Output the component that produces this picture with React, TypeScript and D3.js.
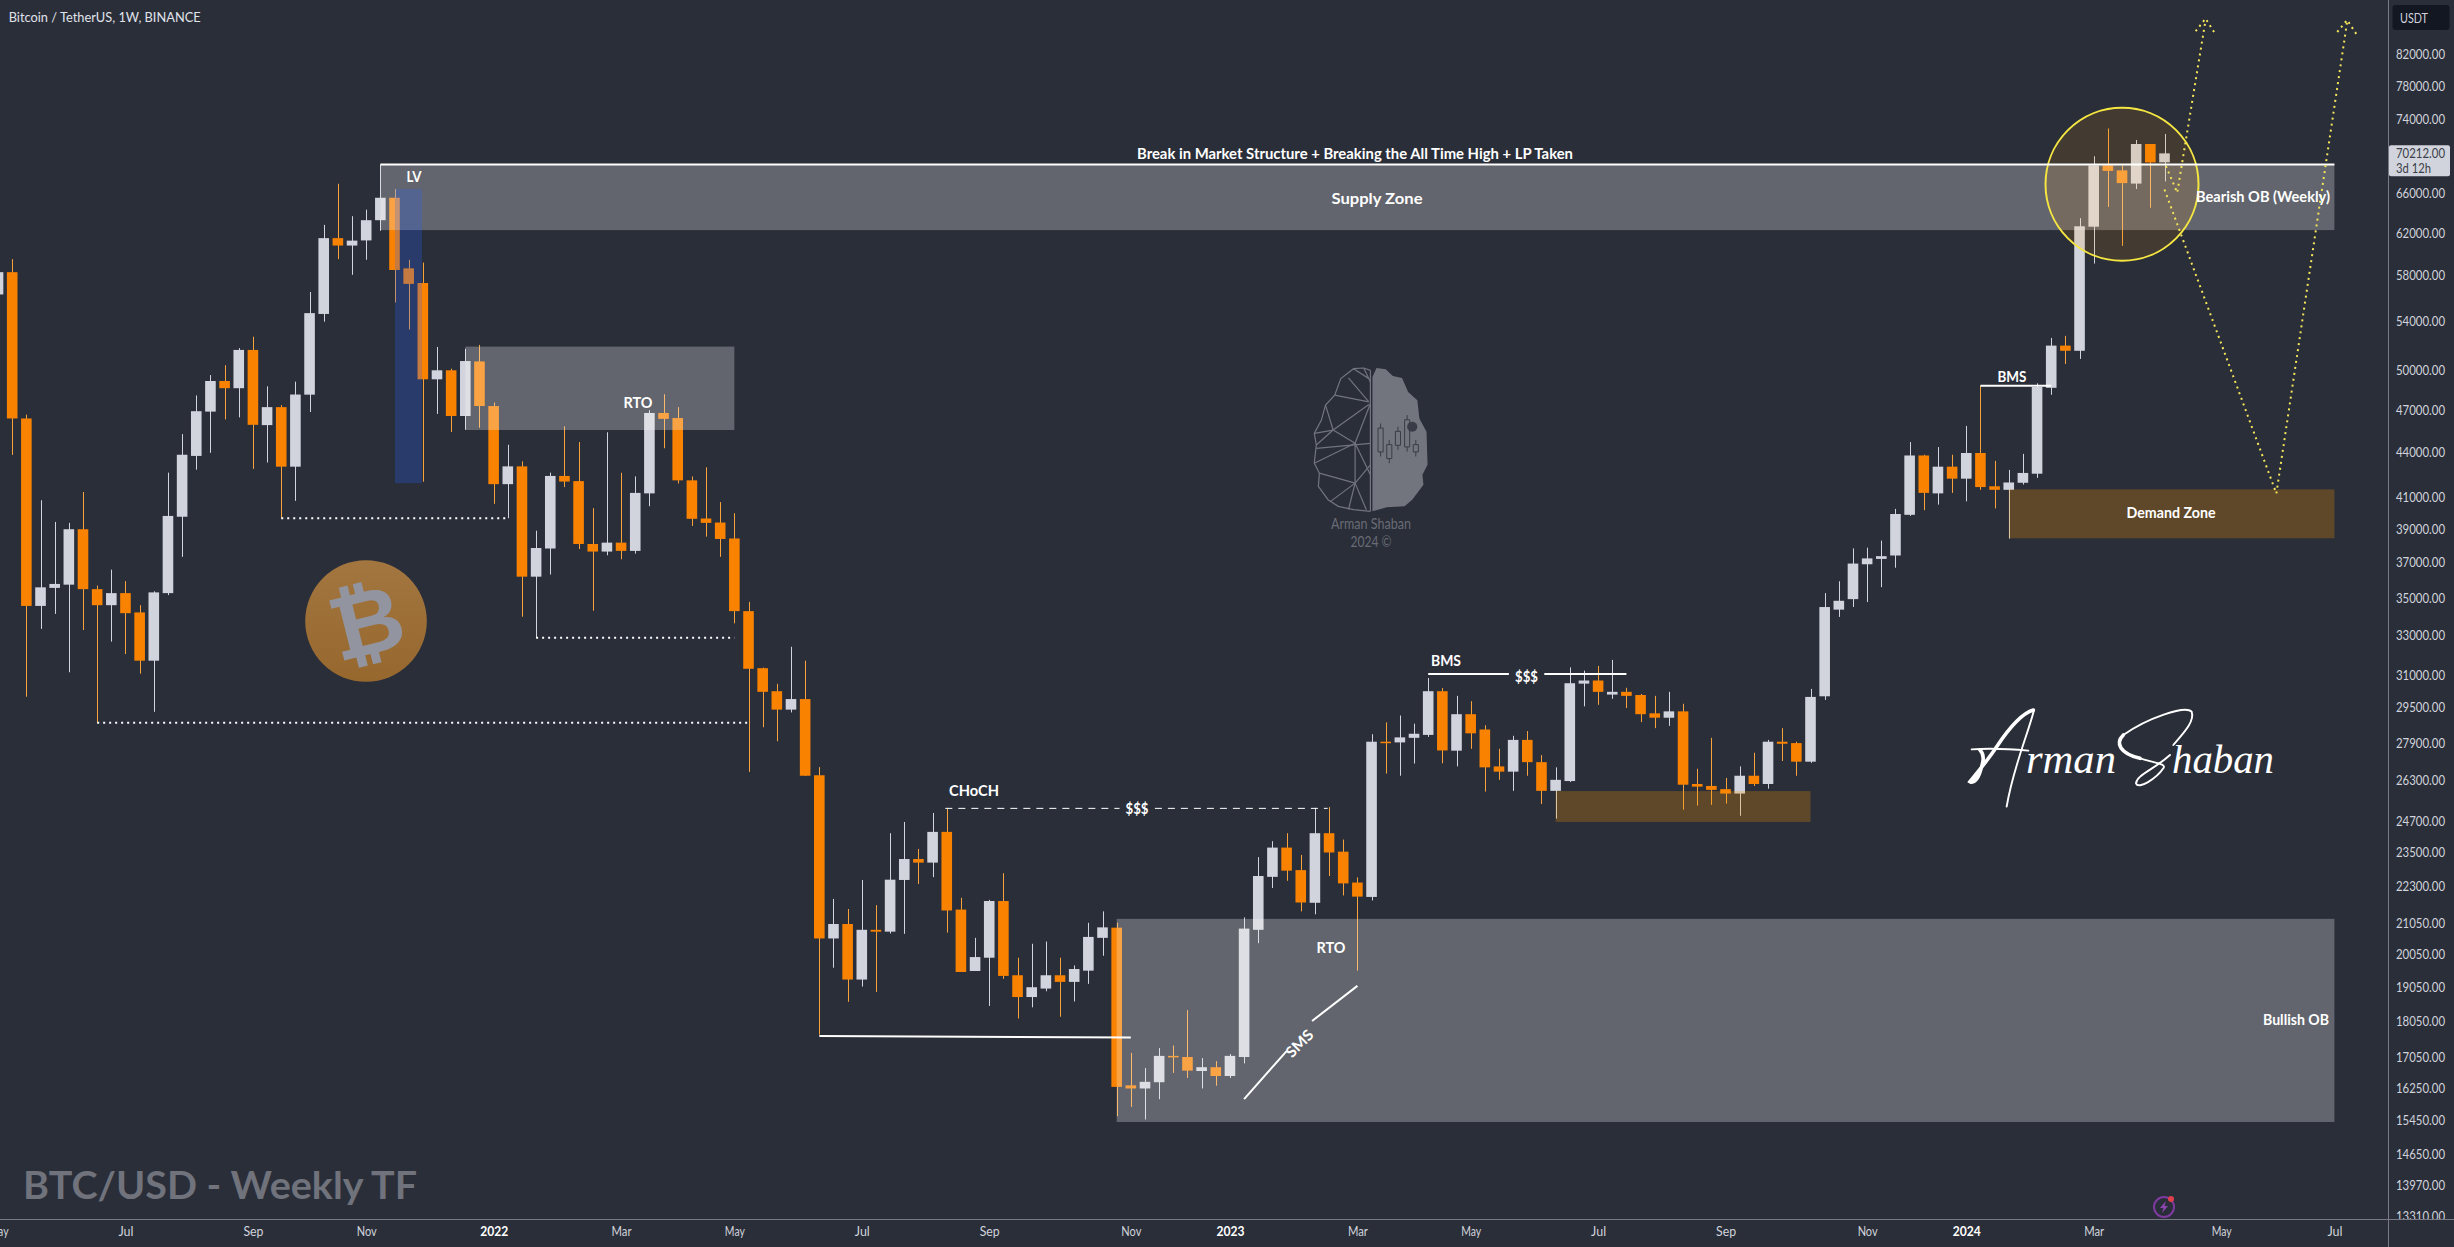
import React, { useRef, useEffect } from 'react';
import * as d3 from 'd3';

const WIDTH = 2454;
const HEIGHT = 1247;
const AXIS_X = 2388;
const AXIS_Y = 1219;

// weekly bars, first one is the week of 3 May 2021
const open = [
  56300, 58300, 46370, 34580, 35570, 35750, 38990, 35500, 34620, 35280, 34230, 31740, 35280, 39760, 43730, 46870,
  49170, 48620, 51620, 45890, 47200, 43000, 48130, 54610, 61490, 60780, 61270, 63240, 65500, 58650, 57320, 49300,
  50000, 46550, 50700, 47280, 41840, 43020, 36200, 37830, 42380, 42040, 38100, 37650, 38180, 37690, 41240, 46770,
  46400, 42090, 39650, 39400, 38430, 34300, 31370, 30260, 29400, 29890, 26530, 20550, 21020, 19270, 20830, 20770,
  22520, 23270, 23140, 24280, 21500, 19530, 19940, 21790, 19400, 18750, 19000, 19400, 19200, 19540, 20570, 20900,
  16330, 16250, 16410, 17100, 17070, 16700, 16800, 16570, 17070, 20830, 22630, 23690, 22870, 21730, 24230, 23540,
  22430, 21930, 27960, 27930, 28130, 28260, 30260, 27570, 29190, 28500, 26900, 26680, 28040, 27080, 25890, 26290,
  30620, 30770, 30100, 30230, 30080, 29230, 29030, 29320, 26170, 26090, 25960, 25780, 26510, 26170, 27960, 27900,
  27100, 30020, 34380, 34950, 36910, 37220, 37420, 39880, 43760, 41240, 43000, 42200, 43930, 41700, 41470, 41930,
  42530, 48650, 51970, 51550, 62600, 68900, 68370, 66970, 71250, 69230,
];
const high = [
  59500, 59500, 46650, 40800, 39440, 39380, 41330, 35700, 36600, 35950, 34620, 35380, 42600, 45250, 48070, 49630,
  50400, 51770, 52700, 48760, 47350, 49120, 56520, 62780, 66950, 63640, 64290, 69000, 66400, 59440, 59180, 51860,
  50130, 51710, 52030, 47540, 44500, 43360, 38900, 42600, 45800, 44690, 40300, 45380, 42590, 42350, 46970, 48160,
  47200, 42350, 42960, 40680, 39980, 34800, 31400, 30610, 32440, 31740, 26870, 21860, 21520, 22520, 21650, 24230,
  24660, 23640, 25010, 25210, 21900, 20570, 21830, 22760, 19940, 20380, 20450, 19940, 19700, 21060, 21440, 21060,
  17180, 16780, 17310, 17380, 18370, 17040, 16960, 17150, 21240, 23340, 23930, 24230, 23420, 25210, 25240, 23990,
  22610, 28290, 28820, 29130, 28760, 30890, 30410, 30040, 29790, 28690, 27650, 28220, 28430, 27380, 26860, 31410,
  31250, 31480, 31780, 30420, 30130, 30040, 30230, 29670, 26800, 28130, 26420, 26900, 27480, 28040, 28560, 27960,
  30370, 35280, 35940, 37840, 37880, 38300, 40250, 44690, 43810, 44340, 43810, 45830, 48800, 43390, 42780, 43870,
  48990, 52600, 52770, 63440, 69900, 73000, 68900, 71700, 71250, 72380,
];
const low = [
  53000, 43800, 30000, 33360, 34150, 31170, 33300, 28800, 32700, 32070, 31100, 29300, 35170, 37340, 42800, 43940,
  46300, 46450, 42850, 43280, 39680, 40760, 46840, 53950, 59500, 58060, 59440, 62200, 55600, 53300, 42000, 46700,
  45400, 45560, 45700, 40570, 39670, 34000, 32900, 36320, 41650, 37800, 34320, 37430, 37200, 37530, 40420, 44260,
  41880, 39190, 38540, 37340, 33650, 26670, 28600, 27980, 29270, 26500, 17680, 19630, 18610, 19060, 18900, 20710,
  20700, 22380, 22620, 20740, 19500, 19530, 18490, 19290, 18130, 18450, 18920, 18180, 18620, 19140, 20000, 15560,
  15790, 15480, 15980, 16650, 16520, 16250, 16320, 16520, 16900, 20400, 22240, 22490, 21440, 21340, 22660, 21980,
  19540, 21810, 26600, 26510, 27020, 28170, 27030, 26900, 27650, 25860, 26340, 25890, 26510, 25360, 24790, 26250,
  29550, 29620, 29900, 29470, 28830, 28560, 28660, 25140, 25300, 25330, 25380, 24900, 26090, 25980, 27130, 26510,
  27050, 29850, 33990, 34520, 34790, 35610, 36710, 39810, 40170, 40520, 41270, 40730, 41470, 40280, 38420, 41810,
  42250, 48120, 50500, 50900, 59090, 64570, 60750, 66400, 64480, 67200,
];
const close = [
  58300, 46370, 34580, 35600, 35790, 38990, 35500, 34620, 35280, 34190, 31740, 35320, 39810, 43810, 46900, 49170,
  48620, 51620, 45910, 47200, 43000, 48140, 54680, 61490, 60780, 61250, 63240, 65500, 58500, 57240, 49300, 50000,
  46550, 50730, 47280, 41840, 43020, 36200, 37860, 42380, 42010, 38100, 37650, 38180, 37690, 41270, 46770, 46340,
  42090, 39630, 39380, 38400, 34300, 31340, 30230, 29400, 29890, 26510, 20550, 21020, 19270, 20830, 20770, 22530,
  23270, 23140, 24280, 21470, 19500, 19960, 21790, 19380, 18750, 19040, 19400, 19200, 19590, 20600, 20910, 16290,
  16250, 16420, 17100, 17070, 16710, 16800, 16570, 17100, 20870, 22660, 23690, 22850, 21740, 24230, 23510, 22400,
  21940, 27960, 27930, 28150, 28310, 30260, 27580, 29190, 28330, 26860, 26680, 28040, 27080, 25890, 26340, 30640,
  30770, 30230, 30230, 30040, 29190, 29030, 29320, 26140, 26060, 25930, 25780, 26510, 26170, 27960, 27870, 27100,
  29990, 34520, 34860, 36950, 37250, 37380, 39930, 43760, 41270, 43000, 42200, 43930, 41650, 41470, 41950, 42580,
  48710, 51970, 51550, 62640, 68900, 68310, 67020, 71250, 69230, 70212,
];

const priceTicks = [
  82000, 78000, 74000, 66000, 62000, 58000, 54000, 50000, 47000, 44000, 41000, 39000, 37000, 35000, 33000, 31000,
  29500, 27900, 26300, 24700, 23500, 22300, 21050, 20050, 19050, 18050, 17050, 16250, 15450, 14650, 13970, 13310,
];
const timeTickBars = [0, 9, 18, 26, 35, 44, 52, 61, 70, 80, 87, 96, 104, 113, 122, 132, 139, 148, 157, 165];
const timeTickLabels = ['May', 'Jul', 'Sep', 'Nov', '2022', 'Mar', 'May', 'Jul', 'Sep', 'Nov', '2023', 'Mar', 'May', 'Jul', 'Sep', 'Nov', '2024', 'Mar', 'May', 'Jul'];

// [first bar, last bar, top price, bottom price]
const grayZones = [
  [27, 165, 69000, 62270],
  [33, 52, 51890, 45540],
  [79, 165, 21190, 15420],
];
const brownZones = [
  [110, 128, 25880, 24660],
  [142, 165, 41500, 38440],
];
const lvZone = [28.03, 29.94, 66400, 41900];

// horizontal levels: [first bar, last bar, price]
const solidLevels = [
  [27, 165, 69000],
  [101, 106.7, 31080],
  [109.2, 115, 31080],
  [140, 145, 48800],
];
const dottedLevels = [
  [20, 36, 39670],
  [38, 52, 32900],
  [7, 53, 28800],
];
const dashedLevels = [
  [66.9, 79.2, 25190],
  [81.7, 93.9, 25190],
];
const sweepLine = [[58, 17640], [80, 17600]];
const smsLines = [
  [[88, 15980], [91, 17230]],
  [[92.8, 18060], [96, 19080]],
];
const projectionA = [[153.1, 68830], [153.9, 66020], [155.9, 86500]];
const arrowA = [[155.2, 85000], [155.9, 86700], [156.6, 84600]];
const projectionB = [[153, 66350], [160.9, 41230], [165.9, 86300]];
const arrowB = [[165.2, 84900], [165.9, 86500], [166.7, 84200]];

const labelFont = 'Lato, "Noto Sans", sans-serif';

const App: React.FC = () => {
  const svgRef = useRef<SVGSVGElement>(null);

  useEffect(() => {
    if (!svgRef.current) return;
    const svg = d3.select(svgRef.current);
    svg.selectAll('*').remove();

    const x = d3.scaleLinear().domain([0, 153]).range([-1.96, 2164.5]);
    const y = d3.scaleLog().domain([82000, 13310]).range([54.2, 1216]);
    const bodyW = 10.6;

    svg.append('rect').attr('width', WIDTH).attr('height', HEIGHT).attr('fill', '#2a2e39');

    const defs = svg.append('defs');
    defs.append('clipPath').attr('id', 'plot').append('rect').attr('width', AXIS_X).attr('height', AXIS_Y);
    const coinFill = defs.append('linearGradient').attr('id', 'coinFill').attr('x1', 0).attr('x2', 0).attr('y1', 0).attr('y2', 1);
    coinFill.append('stop').attr('offset', 0).attr('stop-color', '#a37640');
    coinFill.append('stop').attr('offset', 1).attr('stop-color', '#96682e');

    const plot = svg.append('g').attr('clip-path', 'url(#plot)');

    // coin logo sits under everything
    const coin = plot.append('g').attr('transform', 'translate(366,621)');
    coin.append('circle').attr('r', 60.8).attr('fill', 'url(#coinFill)');
    coin.append('text')
      .attr('transform', 'rotate(-14)')
      .attr('text-anchor', 'middle')
      .attr('y', 33)
      .style('font-family', '"DejaVu Sans", sans-serif')
      .style('font-weight', 'bold')
      .style('font-size', '90px')
      .attr('fill', '#9295a0')
      .text('₿');

    drawBrain(plot);
    drawSignature(plot);

    // candles
    const bars = d3.range(open.length);
    const isUp = (i: number) => close[i] >= open[i];
    plot.append('g').selectAll('line').data(bars).enter().append('line')
      .attr('x1', i => Math.round(x(i)) + 0.5)
      .attr('x2', i => Math.round(x(i)) + 0.5)
      .attr('y1', i => y(high[i]))
      .attr('y2', i => y(low[i]))
      .attr('stroke', i => (isUp(i) ? '#d1d4dc' : '#f7a23a'))
      .attr('stroke-width', 1);
    plot.append('g').selectAll('rect').data(bars).enter().append('rect')
      .attr('x', i => x(i) - bodyW / 2)
      .attr('width', bodyW)
      .attr('y', i => y(Math.max(open[i], close[i])))
      .attr('height', i => Math.max(1.5, y(Math.min(open[i], close[i])) - y(Math.max(open[i], close[i]))))
      .attr('fill', i => (isUp(i) ? '#d1d4dc' : '#f98200'));

    // zones go over the candles, they are see-through
    const zone = (d: number[], fill: string) => plot.append('rect')
      .attr('x', x(d[0]))
      .attr('width', x(d[1]) - x(d[0]))
      .attr('y', y(d[2]))
      .attr('height', y(d[3]) - y(d[2]))
      .attr('fill', fill);
    grayZones.forEach(d => zone(d, 'rgba(255,255,255,0.265)'));
    brownZones.forEach(d => zone(d, 'rgba(255,152,0,0.25)'));
    zone(lvZone, 'rgba(41,98,255,0.25)');

    // circle around the last bars
    plot.append('circle')
      .attr('cx', x(150))
      .attr('cy', y(66900))
      .attr('r', 76.5)
      .attr('fill', 'rgba(255,152,0,0.12)')
      .attr('stroke', '#f5e642')
      .attr('stroke-width', 2);

    // levels
    const level = (d: number[], width: number, dash: string | null) => plot.append('line')
      .attr('x1', x(d[0]))
      .attr('x2', x(d[1]))
      .attr('y1', y(d[2]))
      .attr('y2', y(d[2]))
      .attr('stroke', '#fff')
      .attr('stroke-width', width)
      .attr('stroke-dasharray', dash);
    solidLevels.forEach(d => level(d, 2, null));
    dottedLevels.forEach(d => level(d, 2, '2 4'));
    dashedLevels.forEach(d => level(d, 1, '7 6'));

    const line = d3.line<number[]>().x(d => x(d[0])).y(d => y(d[1]));
    plot.append('path').attr('d', line(sweepLine)).attr('fill', 'none').attr('stroke', '#fff').attr('stroke-width', 2);
    smsLines.forEach(d => {
      plot.append('path').attr('d', line(d)).attr('fill', 'none').attr('stroke', '#fff').attr('stroke-width', 2);
    });
    [projectionA, arrowA, projectionB, arrowB].forEach(d => {
      plot.append('path').attr('d', line(d))
        .attr('fill', 'none')
        .attr('stroke', '#f4e55a')
        .attr('stroke-width', 2)
        .attr('stroke-dasharray', '2 4');
    });

    // labels, squeezed to the width they have in the picture
    const label = (s: string, cx: number, cy: number, size: number, w: number, fill = '#fff', rotate = 0) => {
      plot.append('text')
        .attr('transform', `translate(${cx},${cy}) rotate(${rotate})`)
        .attr('text-anchor', 'middle')
        .attr('dominant-baseline', 'central')
        .attr('textLength', w)
        .attr('lengthAdjust', 'spacingAndGlyphs')
        .style('font-family', labelFont)
        .style('font-weight', 'bold')
        .style('font-size', `${size}px`)
        .attr('fill', fill)
        .text(s);
    };
    label('Break in Market Structure + Breaking the All Time High + LP Taken', 1355, 153, 14.5, 436);
    label('Supply Zone', 1377, 197.5, 16, 91);
    label('Bearish OB (Weekly)', 2263, 196, 15, 134);
    label('Bullish OB', 2296, 1019, 15, 66);
    label('Demand Zone', 2171, 512, 15.5, 89);
    label('LV', 414, 175, 16, 15);
    label('RTO', 638, 401, 16, 29);
    label('CHoCH', 974, 789, 16, 50);
    label('$$$', 1137, 807, 16, 23);
    label('RTO', 1331, 946, 16, 29);
    label('BMS', 1446, 659, 16, 30);
    label('$$$', 1526.5, 675, 16, 23);
    label('BMS', 2012, 375, 16, 29);
    label('SMS', 1299, 1043, 15, 32, '#fff', -45);

    plot.append('text')
      .attr('x', 23)
      .attr('y', 1184)
      .attr('dominant-baseline', 'central')
      .attr('textLength', 394)
      .attr('lengthAdjust', 'spacingAndGlyphs')
      .style('font-family', labelFont)
      .style('font-weight', 'bold')
      .style('font-size', '38px')
      .attr('fill', '#70737c')
      .text('BTC/USD - Weekly TF');

    plot.append('text')
      .attr('x', 8.7)
      .attr('y', 16.5)
      .attr('dominant-baseline', 'central')
      .attr('textLength', 192)
      .attr('lengthAdjust', 'spacingAndGlyphs')
      .style('font-family', labelFont)
      .style('font-size', '14px')
      .attr('fill', '#e0e3eb')
      .text('Bitcoin / TetherUS, 1W, BINANCE');

    // bolt badge near the bottom
    const bolt = plot.append('g').attr('transform', 'translate(2164,1207)');
    bolt.append('circle').attr('r', 10).attr('fill', 'none').attr('stroke', '#7e3a9e').attr('stroke-width', 2);
    bolt.append('path').attr('d', 'M2,-6 L-4,1 L-0.5,1 L-2,6 L4,-1 L0.5,-1 Z').attr('fill', '#8e45b0');
    bolt.append('circle').attr('cx', 7).attr('cy', -8).attr('r', 3).attr('fill', '#e0404a');

    // axes
    const yAxis = d3.axisRight(y)
      .tickValues(priceTicks)
      .tickSize(0)
      .tickPadding(8)
      .tickFormat(d => (d as number).toFixed(2));
    const yG = svg.append('g')
      .attr('transform', `translate(${AXIS_X},0)`)
      .call(yAxis as any);
    yG.select('.domain').remove();
    yG.selectAll('text')
      .attr('textLength', 49)
      .attr('lengthAdjust', 'spacingAndGlyphs')
      .style('font-family', labelFont)
      .style('font-size', '13px')
      .attr('fill', '#d1d4dc');
    // last tick runs under the time scale
    svg.append('rect').attr('x', AXIS_X).attr('y', AXIS_Y).attr('width', WIDTH - AXIS_X).attr('height', HEIGHT - AXIS_Y).attr('fill', '#2a2e39');

    const xAxis = d3.axisBottom(x)
      .tickValues(timeTickBars)
      .tickSize(0)
      .tickPadding(7)
      .tickFormat((_, i) => timeTickLabels[i]);
    const xG = svg.append('g')
      .attr('transform', `translate(0,${AXIS_Y})`)
      .call(xAxis as any);
    xG.select('.domain').remove();
    xG.selectAll<SVGTextElement, number>('text')
      .attr('textLength', (_, i) => (timeTickLabels[i].length === 4 ? 28 : timeTickLabels[i] === 'Jul' ? 15 : 20))
      .attr('lengthAdjust', 'spacingAndGlyphs')
      .style('font-family', labelFont)
      .style('font-size', '14px')
      .style('font-weight', (_, i) => (timeTickLabels[i].length === 4 ? 'bold' : 'normal'))
      .attr('fill', (_, i) => (timeTickLabels[i].length === 4 ? '#fff' : '#d1d4dc'));

    svg.append('line').attr('x1', 0).attr('x2', WIDTH).attr('y1', AXIS_Y + 0.5).attr('y2', AXIS_Y + 0.5).attr('stroke', '#787b86');
    svg.append('line').attr('x1', AXIS_X + 0.5).attr('x2', AXIS_X + 0.5).attr('y1', 0).attr('y2', HEIGHT).attr('stroke', '#787b86');

    // currency badge
    svg.append('rect').attr('x', 2392.5).attr('y', 5).attr('width', 57).attr('height', 25).attr('rx', 3).attr('fill', '#131722');
    svg.append('text')
      .attr('x', 2414)
      .attr('y', 17.5)
      .attr('text-anchor', 'middle')
      .attr('dominant-baseline', 'central')
      .attr('textLength', 28)
      .attr('lengthAdjust', 'spacingAndGlyphs')
      .style('font-family', labelFont)
      .style('font-size', '14px')
      .attr('fill', '#d1d4dc')
      .text('USDT');

    // last price tag
    const lastY = y(close[close.length - 1]);
    svg.append('rect').attr('x', 2389).attr('y', lastY - 8).attr('width', 61).attr('height', 31).attr('rx', 2).attr('fill', '#d1d4dc');
    const tag = (s: string, ty: number, w: number) => svg.append('text')
      .attr('x', 2396)
      .attr('y', ty)
      .attr('dominant-baseline', 'central')
      .attr('textLength', w)
      .attr('lengthAdjust', 'spacingAndGlyphs')
      .style('font-family', labelFont)
      .style('font-size', '13px')
      .attr('fill', '#3a3e49')
      .text(s);
    tag(d3.format('.2f')(close[close.length - 1]), lastY, 49);
    tag('3d 12h', lastY + 15, 35);
  }, []);

  return (
    <svg
      ref={svgRef}
      width={WIDTH}
      height={HEIGHT}
      style={{ position: 'absolute', left: 0, top: 0, display: 'block' }}
    />
  );
};

// watermark logo, drawn in its own little coordinate box
const brainRight = [[1122, 835], [1130, 808], [1148, 812], [1162, 832], [1180, 838], [1192, 880], [1210, 905], [1214, 960], [1228, 1000], [1230, 1100], [1220, 1130], [1222, 1160], [1200, 1205], [1185, 1225], [1150, 1228], [1122, 1240]];
const brainLeft = [[1118, 815], [1105, 808], [1085, 810], [1060, 840], [1048, 890], [1030, 920], [1022, 965], [1008, 1005], [1012, 1040], [1008, 1095], [1018, 1125], [1016, 1165], [1035, 1205], [1055, 1225], [1085, 1235], [1118, 1240]];
const brainMesh = [
  [1075, 838, 1115, 910], [1048, 890, 1115, 910], [1045, 995, 1115, 918], [1045, 995, 1088, 1035], [1008, 1005, 1045, 995],
  [1030, 920, 1045, 995], [1012, 1040, 1045, 995], [1008, 1095, 1088, 1035], [1012, 1050, 1118, 1035], [1088, 1035, 1118, 915],
  [1088, 1035, 1118, 1130], [1018, 1125, 1088, 1155], [1088, 1035, 1088, 1155], [1088, 1155, 1118, 1100], [1088, 1155, 1110, 1235],
  [1088, 1155, 1075, 1235], [1088, 1155, 1040, 1210], [1105, 808, 1118, 850], [1085, 810, 1115, 840], [1118, 815, 1118, 1240],
];
const brainCandles = [[1138, 975, 1075], [1155, 1025, 1095], [1172, 985, 1055], [1190, 950, 1060], [1207, 1025, 1075]];

function drawBrain(parent: d3.Selection<SVGGElement, unknown, null, undefined>) {
  const g = parent.append('g').attr('transform', 'translate(800,100) scale(0.5102,0.3317)');
  const poly = d3.line<number[]>().x(d => d[0]).y(d => d[1]);
  g.append('path').attr('d', poly(brainRight) + 'Z').attr('fill', '#72757d');
  g.append('path').attr('d', poly(brainLeft)).attr('fill', 'none').attr('stroke', '#72757d').attr('stroke-width', 1.2).attr('vector-effect', 'non-scaling-stroke');
  brainMesh.forEach(m => {
    g.append('line').attr('x1', m[0]).attr('y1', m[1]).attr('x2', m[2]).attr('y2', m[3])
      .attr('stroke', '#72757d').attr('stroke-width', 1.2).attr('vector-effect', 'non-scaling-stroke');
  });
  brainCandles.forEach(c => {
    g.append('line').attr('x1', c[0]).attr('x2', c[0]).attr('y1', c[1]).attr('y2', c[2])
      .attr('stroke', '#3a3d47').attr('stroke-width', 1).attr('vector-effect', 'non-scaling-stroke');
    g.append('rect').attr('x', c[0] - 5).attr('width', 10).attr('y', c[1] + 14).attr('height', c[2] - c[1] - 28)
      .attr('fill', '#72757d').attr('stroke', '#3a3d47').attr('stroke-width', 1).attr('vector-effect', 'non-scaling-stroke');
  });
  g.append('ellipse').attr('cx', 1200).attr('cy', 985).attr('rx', 10).attr('ry', 15)
    .attr('fill', '#3a3d47');

  const caption = (s: string, cy: number, w: number) => parent.append('text')
    .attr('x', 1371)
    .attr('y', cy)
    .attr('text-anchor', 'middle')
    .attr('dominant-baseline', 'central')
    .attr('textLength', w)
    .attr('lengthAdjust', 'spacingAndGlyphs')
    .style('font-family', labelFont)
    .style('font-size', '16px')
    .attr('fill', '#686b74')
    .text(s);
  caption('Arman Shaban', 522, 80);
  caption('2024 ©', 540, 41);
}

// handwritten name: the two capitals are strokes, the rest is text
const signatureThick = [
  'M250 60 C215 70 180 110 140 170 C110 215 80 250 60 275 C72 282 85 265 92 240 C100 215 105 195 90 180',
  'M520 135 C495 160 510 190 570 205',
];
const signatureThin = [
  'M252 60 C235 130 190 230 170 350',
  'M65 178 C110 175 170 176 235 182',
  'M670 165 C700 130 735 95 725 65 C705 45 590 85 520 135',
  'M570 205 C620 220 650 222 640 235 C620 265 565 300 558 280 C560 255 610 240 660 195',
];

function drawSignature(parent: d3.Selection<SVGGElement, unknown, null, undefined>) {
  const g = parent.append('g').attr('transform', 'translate(1950,690) scale(0.3333)');
  const stroke = (d: string, w: number) => g.append('path').attr('d', d).attr('fill', 'none').attr('stroke', '#fff')
    .attr('stroke-width', w).attr('stroke-linecap', 'round').attr('vector-effect', 'non-scaling-stroke');
  signatureThick.forEach(d => stroke(d, 3.6));
  signatureThin.forEach(d => stroke(d, 1.9));
  const word = (s: string, sx: number, w: number) => parent.append('text')
    .attr('x', sx)
    .attr('y', 773)
    .attr('textLength', w)
    .attr('lengthAdjust', 'spacingAndGlyphs')
    .style('font-family', '"Liberation Serif", serif')
    .style('font-style', 'italic')
    .style('font-size', '40px')
    .attr('fill', '#fff')
    .text(s);
  word('rman', 2026, 90);
  word('haban', 2172, 102);
}

export default App;
